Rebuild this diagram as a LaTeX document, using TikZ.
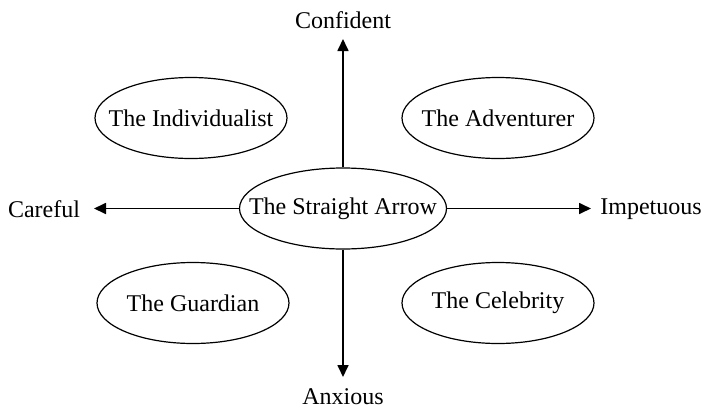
\documentclass[tikz,border=0pt]{standalone}
\usepackage{fontspec}
\setmainfont{Liberation Serif}
\usetikzlibrary{shapes.geometric,arrows.meta}
\newcommand{\zw}[1]{\makebox[0pt]{#1}}
\begin{document}
\begin{tikzpicture}[x=1pt,y=-1pt,
  typebox/.style={draw, ellipse, line width=1.2pt, inner sep=0pt, minimum width=192pt, minimum height=81pt, font=\fontsize{24}{26}\selectfont},
  axislabel/.style={font=\fontsize{24}{26}\selectfont, inner sep=0pt},
  axisline/.style={line width=1.7pt, -{Triangle[length=12pt,width=11pt]}}]
\useasboundingbox (0,0) rectangle (705,410);
\node[typebox, minimum width=207pt] (center) at (343,208.5) {\zw{The Straight Arrow}};
\node[typebox] (indiv) at (191,118) {\zw{The Individualist}};
\node[typebox] (adv) at (498,118) {\zw{The Adventurer}};
\node[typebox] (guard) at (193,303) {\zw{The Guardian}};
\node[typebox] (celeb) at (498,303) {\zw{The Celebrity}};
\coordinate (top) at (343,39);
\coordinate (bot) at (343,377);
\coordinate (left) at (94,208.5);
\coordinate (right) at (591,208.5);
\node[axislabel] (conf) at (343,20) {Confident};
\node[axislabel] (anx) at (343,397) {Anxious};
\node[axislabel] (care) at (44,209) {Careful};
\node[axislabel] (imp) at (651,209) {Impetuous};
\draw[axisline] (center.north) -- (top);
\draw[axisline] (center.south) -- (bot);
\draw[axisline] (center.west) -- (left);
\draw[axisline] (center.east) -- (right);
\end{tikzpicture}
\end{document}
